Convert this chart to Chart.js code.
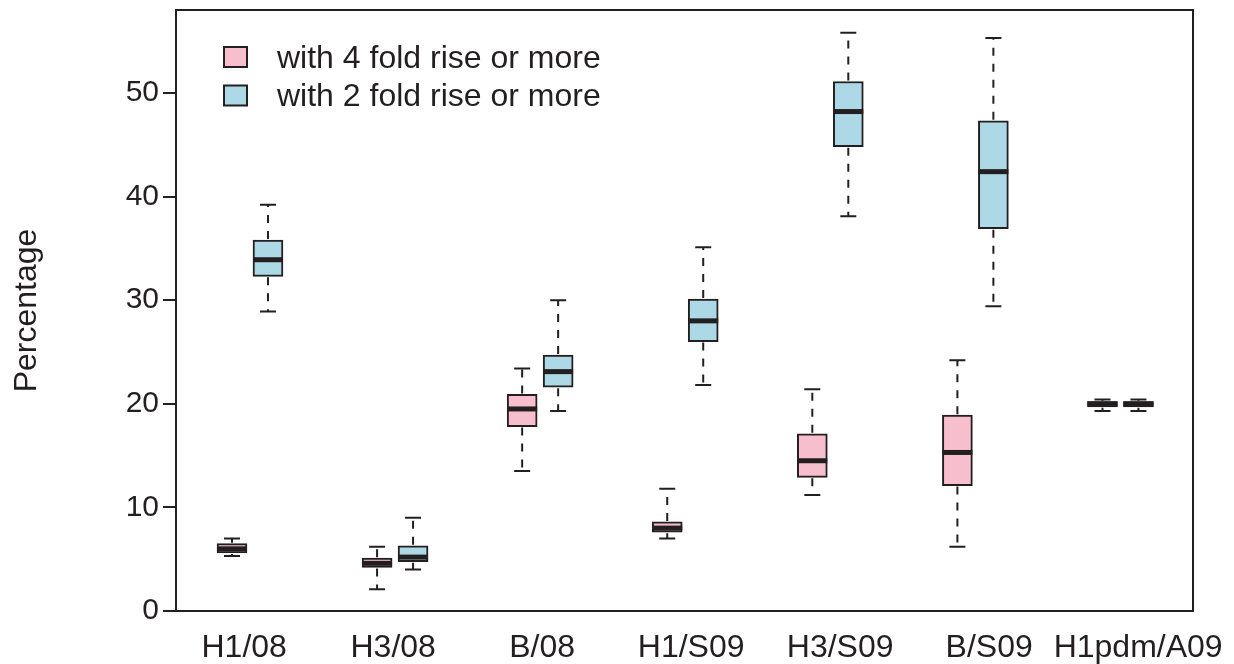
<!DOCTYPE html>
<html>
<head>
<meta charset="utf-8">
<title>Percentage with fold rise, by strain</title>
<script src="https://cdn.jsdelivr.net/npm/chart.js@4.4.1/dist/chart.umd.min.js"></script>
<style>
  html, body { margin: 0; padding: 0; background: #ffffff; }
  #wrap { width: 1234px; height: 664px; position: relative; }
</style>
</head>
<body>
<div id="wrap"><canvas id="chart"></canvas></div>
<script>
// Strains (x axis categories)
const categories = ['H1/08', 'H3/08', 'B/08', 'H1/S09', 'H3/S09', 'B/S09', 'H1pdm/A09'];

// Series 1: with 4 fold rise or more (box plot five-number summaries)
const fourFoldMin    = [5.3, 2.1, 13.5, 7.0, 11.2,  6.2, 19.3];
const fourFoldQ1     = [5.6, 4.2, 17.8, 7.6, 12.9, 12.1, 19.7];
const fourFoldMedian = [6.0, 4.6, 19.5, 8.0, 14.5, 15.3, 20.0];
const fourFoldQ3     = [6.5, 5.1, 20.9, 8.6, 17.1, 18.9, 20.2];
const fourFoldMax    = [7.0, 6.2, 23.4, 11.8, 21.4, 24.2, 20.4];

// Series 2: with 2 fold rise or more
const twoFoldMin    = [28.9, 4.0, 19.3, 21.8, 38.1, 29.4, 19.3];
const twoFoldQ1     = [32.3, 4.75, 21.6, 26.0, 44.8, 36.9, 19.7];
const twoFoldMedian = [33.9, 5.2, 23.1, 28.0, 48.2, 42.4, 20.0];
const twoFoldQ3     = [35.8, 6.3, 24.7, 30.1, 51.1, 47.3, 20.2];
const twoFoldMax    = [39.2, 9.0, 30.0, 35.1, 55.8, 55.3, 20.4];

// Y axis tick labels
const yTickValues = [0, 10, 20, 30, 40, 50];

const seriesLabels = ['with 4 fold rise or more', 'with 2 fold rise or more'];

// Layout constants
const INK = '#231f20';
const PINK = '#f7bfcd';
const BLUE = '#add8e6';
const FAMILY = '"Liberation Sans", Arial, Helvetica, sans-serif';
const FONT = { family: FAMILY, size: 32 };
const TICK_FONT = { family: FAMILY, size: 30 };
const PAIR_OFFSET = 0.124;   // half distance between the two boxes of a strain
const LABEL_START = -0.04;   // strain label layout along the x axis
const LABEL_STEP = 1.027;

function boxData(q1, q3, shift) {
  return categories.map((c, i) => ({ x: i + shift, y: [q1[i], q3[i]] }));
}

// Whiskers, caps and medians drawn on top of the floating bars
const boxWhiskers = {
  id: 'boxWhiskers',
  afterDatasetsDraw(chart) {
    const ctx = chart.ctx;
    const ys = chart.scales.y;
    chart.data.datasets.forEach((ds, di) => {
      const meta = chart.getDatasetMeta(di);
      meta.data.forEach((bar, i) => {
        const cx = bar.x;
        const half = bar.width / 2;
        const yMin = ys.getPixelForValue(ds.whiskerMin[i]);
        const yMax = ys.getPixelForValue(ds.whiskerMax[i]);
        const yQ1 = ys.getPixelForValue(ds.data[i].y[0]);
        const yQ3 = ys.getPixelForValue(ds.data[i].y[1]);
        const yMed = ys.getPixelForValue(ds.median[i]);
        ctx.save();
        ctx.strokeStyle = INK;
        ctx.lineWidth = 2;
        // dashed whiskers
        ctx.setLineDash([8, 8]);
        ctx.beginPath();
        ctx.moveTo(cx, yQ3 - 1); ctx.lineTo(cx, yMax);
        ctx.moveTo(cx, yQ1 + 1); ctx.lineTo(cx, yMin);
        ctx.stroke();
        // caps
        ctx.setLineDash([]);
        ctx.beginPath();
        ctx.moveTo(cx - 8, yMax); ctx.lineTo(cx + 8, yMax);
        ctx.moveTo(cx - 8, yMin); ctx.lineTo(cx + 8, yMin);
        ctx.stroke();
        // median
        ctx.lineWidth = 5;
        ctx.beginPath();
        ctx.moveTo(cx - half, yMed); ctx.lineTo(cx + half, yMed);
        ctx.stroke();
        ctx.restore();
      });
    });
  }
};

// Frame around the plotting region
const plotFrame = {
  id: 'plotFrame',
  afterDraw(chart) {
    const { ctx, chartArea: a } = chart;
    ctx.save();
    ctx.strokeStyle = INK;
    ctx.lineWidth = 2;
    ctx.strokeRect(a.left, a.top, a.right - a.left, a.bottom - a.top);
    ctx.restore();
  }
};

// Legend boxes inside the plotting region
const innerLegend = {
  id: 'innerLegend',
  afterDraw(chart) {
    const { ctx, chartArea: a } = chart;
    ctx.save();
    ctx.font = FONT.size + 'px ' + FONT.family;
    ctx.textBaseline = 'middle';
    ctx.textAlign = 'left';
    chart.data.datasets.forEach((ds, di) => {
      const cy = a.top + 47 + di * 38.5;
      ctx.fillStyle = ds.backgroundColor;
      ctx.fillRect(a.left + 48, cy - 10, 23, 20);
      ctx.strokeStyle = INK;
      ctx.lineWidth = 2;
      ctx.strokeRect(a.left + 48, cy - 10, 23, 20);
      ctx.fillStyle = INK;
      ctx.fillText(ds.label, a.left + 101, cy + 2);
    });
    ctx.restore();
  }
};

new Chart(document.getElementById('chart'), {
  type: 'bar',
  data: {
    datasets: [
      {
        label: seriesLabels[0],
        data: boxData(fourFoldQ1, fourFoldQ3, -PAIR_OFFSET),
        median: fourFoldMedian,
        whiskerMin: fourFoldMin,
        whiskerMax: fourFoldMax,
        backgroundColor: PINK,
        borderColor: INK,
        borderWidth: 2,
        borderSkipped: false,
        barThickness: 30,
        grouped: false
      },
      {
        label: seriesLabels[1],
        data: boxData(twoFoldQ1, twoFoldQ3, PAIR_OFFSET),
        median: twoFoldMedian,
        whiskerMin: twoFoldMin,
        whiskerMax: twoFoldMax,
        backgroundColor: BLUE,
        borderColor: INK,
        borderWidth: 2,
        borderSkipped: false,
        barThickness: 30,
        grouped: false
      }
    ]
  },
  options: {
    responsive: true,
    maintainAspectRatio: false,
    devicePixelRatio: 1,
    animation: false,
    layout: { padding: { left: 0, top: 10, right: 41, bottom: 0 } },
    plugins: {
      legend: { display: false },
      tooltip: { enabled: false }
    },
    scales: {
      x: {
        type: 'linear',
        min: -0.51,
        max: 6.5,
        offset: false,
        border: { display: false },
        grid: { display: false, drawTicks: false },
        afterBuildTicks(scale) {
          scale.ticks = categories.map((c, i) => ({ value: LABEL_START + i * LABEL_STEP }));
        },
        afterFit(scale) {
          scale.height = 53;
          scale.paddingLeft = 0;
          scale.paddingRight = 0;
        },
        ticks: {
          autoSkip: false,
          maxRotation: 0,
          minRotation: 0,
          padding: 18,
          color: INK,
          font: FONT,
          callback: (v, idx) => categories[idx]
        }
      },
      y: {
        min: 0,
        max: 58,
        border: { display: false },
        grid: {
          drawOnChartArea: false,
          drawTicks: true,
          tickLength: 13,
          color: INK,
          lineWidth: 2
        },
        afterBuildTicks(scale) {
          scale.ticks = yTickValues.map(v => ({ value: v }));
        },
        afterFit(scale) {
          scale.width = 176;
          scale.paddingTop = 0;
          scale.paddingBottom = 0;
        },
        ticks: {
          padding: 4,
          color: INK,
          font: TICK_FONT
        },
        title: {
          display: true,
          text: 'Percentage',
          color: INK,
          font: FONT,
          padding: { top: 8, bottom: 0 }
        }
      }
    }
  },
  plugins: [boxWhiskers, plotFrame, innerLegend]
});
</script>
</body>
</html>
